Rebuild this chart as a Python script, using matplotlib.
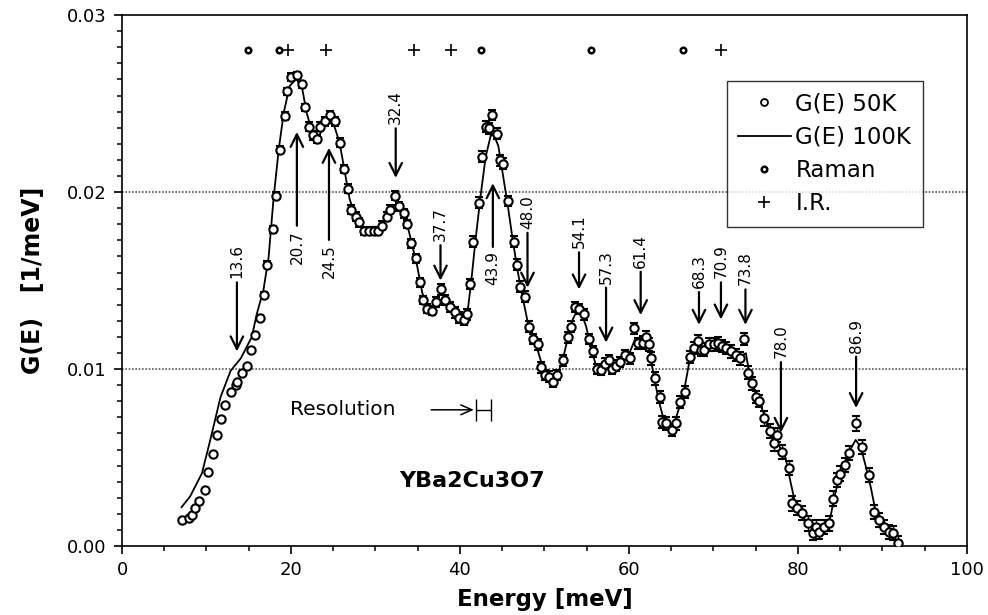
import matplotlib
matplotlib.use("Agg")
import matplotlib.pyplot as plt
from matplotlib.ticker import AutoMinorLocator, FormatStrFormatter, MultipleLocator
from matplotlib.lines import Line2D
import numpy as np

plt.rcParams['font.family'] = ['DejaVu Sans']

# G(E) at 50K (open circles, units of 1e-3 1/meV)
energy_50k = [7.1, 7.9, 8.25, 8.65, 9.15, 9.85, 10.15, 10.75, 11.25, 11.75,
              12.25, 12.85, 13.45, 13.65, 14.25, 14.75, 15.25, 15.75, 16.35, 16.75,
              17.15, 17.85, 18.25, 18.75, 19.25, 19.55, 19.95, 20.75, 21.35, 21.65,
              22.15, 22.55, 23.05, 23.45, 24.05, 24.65, 25.25, 25.85, 26.25, 26.75,
              27.05, 27.65, 28.05, 28.65, 29.25, 29.85, 30.25, 30.75, 31.35, 31.75,
              32.35, 32.75, 33.35, 33.75, 34.25, 34.75, 35.25, 35.65, 36.05, 36.65,
              37.15, 37.75, 38.25, 38.85, 39.45, 39.85, 40.45, 40.85, 41.15, 41.55,
              42.25, 42.65, 43.05, 43.45, 43.85, 44.35, 44.75, 45.15, 45.65, 46.35,
              46.75, 47.15, 47.65, 48.15, 48.65, 49.25, 49.65, 50.05, 50.55, 51.05,
              51.55, 52.25, 52.75, 53.15, 53.65, 54.15, 54.65, 55.25, 55.75, 56.25,
              56.65, 57.15, 57.65, 58.05, 58.45, 58.95, 59.55, 60.15, 60.65, 61.05,
              61.65, 62.05, 62.35, 62.65, 63.05, 63.65, 63.95, 64.45, 65.15, 65.55,
              66.05, 66.65, 67.25, 67.75, 68.15, 68.55, 68.95, 69.45, 70.05, 70.55,
              71.05, 71.55, 72.15, 72.65, 73.15, 73.65, 74.05, 74.55, 75.05, 75.45,
              76.05, 76.65, 77.15, 77.55, 78.15, 78.95, 79.35, 79.95, 80.55, 81.15,
              81.75, 82.15, 82.55, 83.05, 83.65, 84.15, 84.65, 85.05, 85.55, 86.05,
              86.85, 87.65, 88.45, 89.05, 89.65, 90.25, 90.85, 91.25, 91.85]
g_50k = [1.47, 1.60, 1.75, 2.13, 2.56, 3.16, 4.16, 5.18, 6.27, 7.19,
         7.97, 8.68, 9.10, 9.28, 9.76, 10.17, 11.07, 11.90, 12.90, 14.20,
         15.90, 17.90, 19.80, 22.40, 24.30, 25.70, 26.50, 26.60, 26.10, 24.80,
         23.70, 23.20, 23.00, 23.70, 24.00, 24.35, 24.00, 22.80, 21.30, 20.20,
         19.00, 18.60, 18.30, 17.80, 17.80, 17.80, 17.80, 18.10, 18.60, 19.00,
         19.80, 19.20, 18.80, 18.20, 17.10, 16.25, 14.90, 13.90, 13.40, 13.30,
         13.80, 14.50, 13.90, 13.50, 13.20, 12.90, 12.80, 13.10, 14.80, 17.20,
         19.40, 22.00, 23.70, 23.60, 24.35, 23.30, 21.80, 21.60, 19.50, 17.20,
         15.90, 14.65, 14.10, 12.40, 11.70, 11.40, 10.10, 9.66, 9.57, 9.28,
         9.66, 10.50, 11.80, 12.40, 13.50, 13.40, 13.10, 11.70, 11.00, 10.00,
         9.94, 10.30, 10.50, 10.00, 10.20, 10.40, 10.80, 10.60, 12.30, 11.45,
         11.50, 11.80, 11.40, 10.60, 9.47, 8.44, 7.02, 6.93, 6.55, 6.93,
         8.15, 8.72, 10.70, 11.20, 11.60, 11.10, 11.10, 11.40, 11.40, 11.45,
         11.30, 11.20, 11.00, 10.80, 10.60, 11.70, 9.80, 9.19, 8.44, 8.20,
         7.21, 6.50, 5.80, 6.30, 5.33, 4.39, 2.41, 2.13, 1.85, 1.28,
         0.72, 1.09, 0.81, 1.09, 1.28, 2.69, 3.73, 4.10, 4.58, 5.24,
         6.93, 5.61, 4.01, 1.94, 1.47, 1.09, 0.81, 0.72, 0.15]
err_50k = [0, 0, 0, 0, 0, 0, 0, 0, 0, 0,
           0, 0, 0, 0, 0, 0, 0, 0, 0.15, 0.15,
           0.2, 0.2, 0.2, 0.2, 0.2, 0.2, 0.2, 0.2, 0.2, 0.2,
           0.25, 0.25, 0.25, 0.25, 0.25, 0.25, 0.25, 0.25, 0.25, 0.25,
           0.25, 0.25, 0.25, 0.25, 0.25, 0.25, 0.25, 0.25, 0.25, 0.25,
           0.25, 0.25, 0.25, 0.25, 0.25, 0.25, 0.25, 0.25, 0.25, 0.25,
           0.3, 0.3, 0.3, 0.3, 0.3, 0.3, 0.3, 0.3, 0.3, 0.3,
           0.3, 0.3, 0.3, 0.3, 0.3, 0.3, 0.3, 0.3, 0.3, 0.3,
           0.3, 0.3, 0.3, 0.3, 0.3, 0.3, 0.3, 0.3, 0.3, 0.3,
           0.3, 0.3, 0.3, 0.3, 0.3, 0.3, 0.3, 0.3, 0.3, 0.3,
           0.3, 0.3, 0.3, 0.3, 0.3, 0.3, 0.3, 0.3, 0.3, 0.3,
           0.35, 0.35, 0.35, 0.35, 0.35, 0.35, 0.35, 0.35, 0.35, 0.35,
           0.35, 0.35, 0.35, 0.35, 0.35, 0.35, 0.35, 0.35, 0.35, 0.35,
           0.35, 0.35, 0.35, 0.35, 0.35, 0.35, 0.35, 0.35, 0.35, 0.35,
           0.4, 0.4, 0.4, 0.4, 0.4, 0.4, 0.4, 0.4, 0.4, 0.4,
           0.4, 0.4, 0.4, 0.4, 0.4, 0.4, 0.4, 0.4, 0.4, 0.4,
           0.4, 0.4, 0.4, 0.4, 0.4, 0.4, 0.4, 0.4, 0.4]

# G(E) at 100K (solid line)
energy_100k = [7.05, 8.05, 9.45, 10.45, 11.65, 12.85, 14.05, 15.35, 15.95, 16.75,
               17.35, 17.95, 18.55, 19.15, 19.85, 20.65, 21.35, 21.85, 22.55, 23.05,
               23.65, 24.45, 25.15, 25.75, 26.35, 26.95, 27.65, 28.45, 29.35, 30.15,
               31.15, 31.95, 32.55, 33.15, 33.75, 34.35, 34.95, 35.55, 36.15, 36.85,
               37.55, 38.15, 38.95, 39.65, 40.35, 40.85, 41.35, 41.85, 42.45, 43.05,
               43.65, 44.05, 44.55, 45.05, 45.65, 46.25, 46.85, 47.45, 48.05, 48.65,
               49.25, 49.75, 50.35, 50.95, 51.55, 52.15, 52.75, 53.35, 53.85, 54.35,
               54.95, 55.45, 56.05, 56.65, 57.35, 58.05, 58.75, 59.45, 60.15, 60.75,
               61.35, 61.95, 62.45, 62.95, 63.55, 64.15, 64.75, 65.35, 65.95, 66.55,
               67.15, 67.75, 68.45, 69.15, 69.95, 70.75, 71.55, 72.35, 73.15, 73.85,
               74.25, 74.95, 75.65, 76.45, 77.15, 77.85, 78.55, 79.15, 79.75, 80.55,
               81.35, 82.15, 82.95, 83.75, 84.35, 84.95, 85.55, 86.15, 86.85, 87.45,
               88.05, 88.65, 89.15, 89.75, 90.45, 91.15, 91.85]
g_100k = [2.2, 2.8, 4.1, 6.0, 8.4, 9.9, 10.6, 11.8, 13.1, 14.5,
          16.3, 19.7, 22.4, 24.5, 26.0, 26.4, 25.8, 24.5, 23.3, 22.9,
          23.5, 24.0, 23.7, 22.8, 21.2, 19.6, 18.6, 17.9, 17.6, 17.8,
          18.5, 19.1, 19.4, 19.0, 18.2, 17.0, 15.8, 14.3, 13.5, 13.4,
          13.9, 13.8, 13.4, 13.0, 12.7, 13.0, 15.0, 17.3, 19.8, 22.0,
          23.2, 23.2, 22.6, 21.1, 19.3, 17.3, 15.5, 14.0, 12.6, 11.7,
          11.0, 10.2, 9.7, 9.4, 9.7, 10.5, 11.7, 12.8, 13.3, 13.2,
          12.4, 11.3, 10.3, 10.0, 10.2, 10.2, 10.4, 10.7, 11.0, 11.7,
          11.8, 11.7, 11.0, 9.6, 8.2, 7.1, 6.8, 6.9, 7.8, 8.8,
          10.4, 11.0, 11.1, 11.2, 11.3, 11.3, 11.1, 10.9, 10.7, 10.9,
          9.8, 8.7, 7.9, 6.9, 6.1, 5.6, 5.0, 3.6, 2.3, 1.7,
          1.1, 0.9, 1.0, 1.4, 2.8, 4.0, 4.6, 5.4, 6.0, 5.6,
          4.5, 3.3, 2.1, 1.5, 1.0, 0.7, 0.2]

# optical mode energies shown along the top
raman_energy = [14.9, 18.6, 42.5, 55.5, 66.4]
ir_energy = [19.7, 24.1, 34.6, 38.9, 70.9]
mode_level = 0.028

# labelled arrows: energy, tail and tip (1e-3 1/meV)
arrow_energy = [13.6, 20.7, 24.5, 32.4, 37.7, 43.9, 48.0, 54.1, 57.3, 61.4, 68.3, 70.9, 73.8, 78.0, 86.9]
arrow_tail = [14.9, 18.1, 17.3, 23.6, 17.0, 16.9, 17.7, 16.6, 14.6, 15.5, 14.35, 14.9, 14.5, 10.4, 10.7]
arrow_tip = [11.0, 23.4, 22.5, 20.8, 15.0, 20.5, 14.6, 14.5, 11.5, 13.05, 12.5, 12.8, 12.5, 6.4, 7.8]

# instrument resolution (meV)
resolution_center = 42.8
resolution_width = 1.7

e50 = np.array(energy_50k)
g50 = np.array(g_50k) * 1e-3
err50 = np.array(err_50k) * 1e-3

fig = plt.figure(figsize=(9.88, 6.15), dpi=100)
ax = fig.add_axes([0.1235, 0.112, 0.855, 0.8635])

ax.axhline(0.01, color='0.35', lw=1.2, ls=(0, (1, 1)), zorder=0.5)
ax.axhline(0.02, color='0.35', lw=1.2, ls=(0, (1, 1)), zorder=0.5)

ax.plot(energy_100k, np.array(g_100k) * 1e-3, color='k', lw=1.3, zorder=2)
ax.errorbar(e50, g50, yerr=err50, fmt='o', ms=6, mfc='white', mec='k', mew=1.5,
            ecolor='k', elinewidth=1, capsize=3, capthick=1, zorder=3)

ax.plot(raman_energy, [mode_level] * len(raman_energy), 'o', ms=4, mfc='white',
        mec='k', mew=1.8, ls='none')
ax.plot(ir_energy, [mode_level] * len(ir_energy), '+', ms=9, mew=1.2, color='k', ls='none')

for e, tail, tip in zip(arrow_energy, arrow_tail, arrow_tip):
    ax.annotate('', xy=(e, tip * 1e-3), xytext=(e, tail * 1e-3),
                arrowprops=dict(arrowstyle='->,head_length=0.9,head_width=0.45',
                                lw=1.6, color='k', shrinkA=0, shrinkB=0), zorder=4)
    if tip < tail:
        ax.annotate(f'{e:.1f}', xy=(e, tail * 1e-3), xytext=(0, 3), textcoords='offset points',
                    rotation=90, ha='center', va='bottom', fontsize=11)
    else:
        ax.annotate(f'{e:.1f}', xy=(e, tail * 1e-3), xytext=(0, -3), textcoords='offset points',
                    rotation=90, ha='center', va='top', fontsize=11)

ax.text(26.1, 0.0077, 'Resolution', fontsize=14.5, ha='center', va='center')
ax.annotate('', xy=(resolution_center - resolution_width / 2 - 0.3, 0.0077), xytext=(36.6, 0.0077),
            arrowprops=dict(arrowstyle='->,head_length=0.8,head_width=0.35', lw=1.1,
                            color='k', shrinkA=0, shrinkB=0))
ax.errorbar([resolution_center], [0.0077], xerr=[resolution_width / 2], fmt='none',
            ecolor='k', elinewidth=1, capsize=8, capthick=1)

ax.text(41.4, 0.0037, 'YBa2Cu3O7', fontsize=16, fontweight='bold', ha='center', va='center')

ax.set_xlim(0, 100)
ax.set_ylim(0, 0.03)
ax.xaxis.set_major_locator(MultipleLocator(20))
ax.xaxis.set_minor_locator(AutoMinorLocator(4))
ax.yaxis.set_major_locator(MultipleLocator(0.01))
ax.yaxis.set_minor_locator(AutoMinorLocator(11))
ax.yaxis.set_major_formatter(FormatStrFormatter('%.2f'))
ax.tick_params(which='major', direction='out', length=6, width=1.2, labelsize=13, pad=5)
ax.tick_params(which='minor', direction='out', length=3.5, width=1.1)
for s in ax.spines.values():
    s.set_linewidth(1.2)

ax.set_xlabel('Energy [meV]', fontsize=16.5, fontweight='bold', labelpad=6)
ax.set_ylabel('G(E)   [1/meV]', fontsize=17, fontweight='bold', labelpad=16)

handles = [
    Line2D([], [], marker='o', ms=5, mfc='white', mec='k', mew=1.3, ls='none'),
    Line2D([], [], color='k', lw=1.3),
    Line2D([], [], marker='o', ms=4, mfc='white', mec='k', mew=1.8, ls='none'),
    Line2D([], [], marker='+', ms=9, mew=1.2, color='k', ls='none'),
]
leg = ax.legend(handles, ['G(E) 50K', 'G(E) 100K', 'Raman', 'I.R.'],
                loc='upper left', bbox_to_anchor=(0.7156, 0.876), borderaxespad=0,
                fontsize=16.5, frameon=True, fancybox=False, edgecolor='k',
                handlelength=2.3, handletextpad=0.2, labelspacing=0.45, borderpad=0.5)
leg.get_frame().set_linewidth(1.0)
leg.set_zorder(5)

plt.savefig('out.png', dpi=100)
